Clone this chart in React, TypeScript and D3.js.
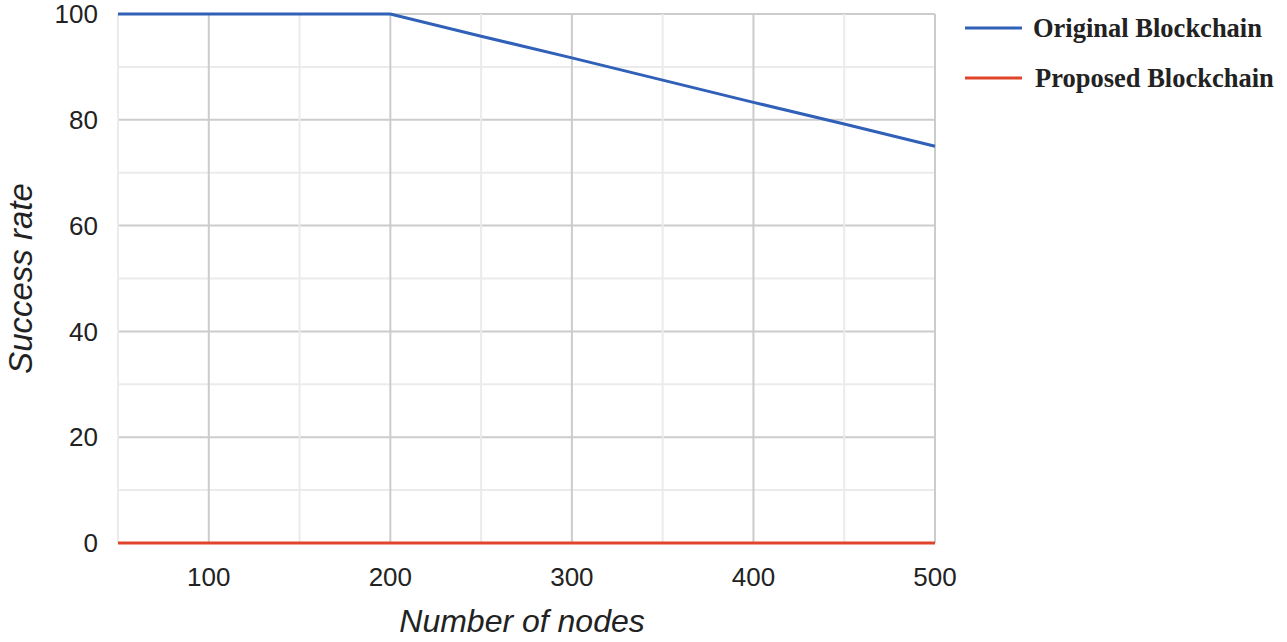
import React from "react";
import * as d3 from "d3";

const nodes = [50, 100, 150, 200, 250, 300, 350, 400, 450, 500];
const original = [100, 100, 100, 100, 95.8, 91.7, 87.5, 83.3, 79.2, 75];
const proposed = [0, 0, 0, 0, 0, 0, 0, 0, 0, 0];
const xTicks = [100, 200, 300, 400, 500];
const yTicks = [0, 20, 40, 60, 80, 100];
const seriesNames = ["Original Blockchain", "Proposed Blockchain"];
const seriesColors = ["#3060b8", "#e0452b"];

const W = 1287, H = 642;
const L = 118, R = 935, T = 14, B = 543;

export default function App() {
  const x = d3.scaleLinear().domain([50, 500]).range([L, R]);
  const y = d3.scaleLinear().domain([0, 100]).range([B, T]);
  const line = d3.line<number>().x((_, i) => x(nodes[i])).y((d) => y(d));
  const minorX = d3.range(50, 501, 50);
  const minorY = d3.range(0, 101, 10);
  const sans = "'Liberation Sans', Arial, sans-serif";
  const serif = "'Liberation Serif', 'Times New Roman', serif";
  return (
    <svg width={W} height={H} style={{ position: "absolute", left: 0, top: 0, background: "#fff" }}>
      {minorY.map((v) => (
        <line key={"my" + v} x1={L} x2={R} y1={y(v)} y2={y(v)} stroke={v % 20 === 0 ? "#cccccc" : "#ebebeb"} strokeWidth={2} />
      ))}
      {minorX.map((v) => (
        <line key={"mx" + v} x1={x(v)} x2={x(v)} y1={T} y2={B} stroke={v % 100 === 0 ? "#cccccc" : "#ebebeb"} strokeWidth={2} />
      ))}
      {yTicks.map((v) => (
        <text key={"yt" + v} x={98} y={y(v)} dy="0.35em" textAnchor="end" fontFamily={sans} fontSize={26} fill="#222">{v}</text>
      ))}
      {xTicks.map((v) => (
        <text key={"xt" + v} x={x(v)} y={577} dy="0.35em" textAnchor="middle" fontFamily={sans} fontSize={26} fill="#222">{v}</text>
      ))}
      <path d={line(proposed) || ""} fill="none" stroke={seriesColors[1]} strokeWidth={3} />
      <path d={line(original) || ""} fill="none" stroke={seriesColors[0]} strokeWidth={3} />
      <text x={522} y={632} textAnchor="middle" fontFamily={sans} fontStyle="italic" fontSize={32} fill="#222">Number of nodes</text>
      <text transform={`translate(20,${(T + B) / 2}) rotate(-90)`} dy="0.35em" textAnchor="middle" fontFamily={sans} fontStyle="italic" fontSize={33} fill="#222">Success rate</text>
      {seriesNames.map((n, i) => (
        <g key={n} transform={`translate(965,${28 + i * 50})`}>
          <line x1={0} x2={57} y1={0} y2={0} stroke={seriesColors[i]} strokeWidth={3} />
          <text x={68 + i * 2} y={0} dy="0.35em" fontFamily={serif} fontWeight="bold" fontSize={26.5} fill="#222">{n}</text>
        </g>
      ))}
    </svg>
  );
}
